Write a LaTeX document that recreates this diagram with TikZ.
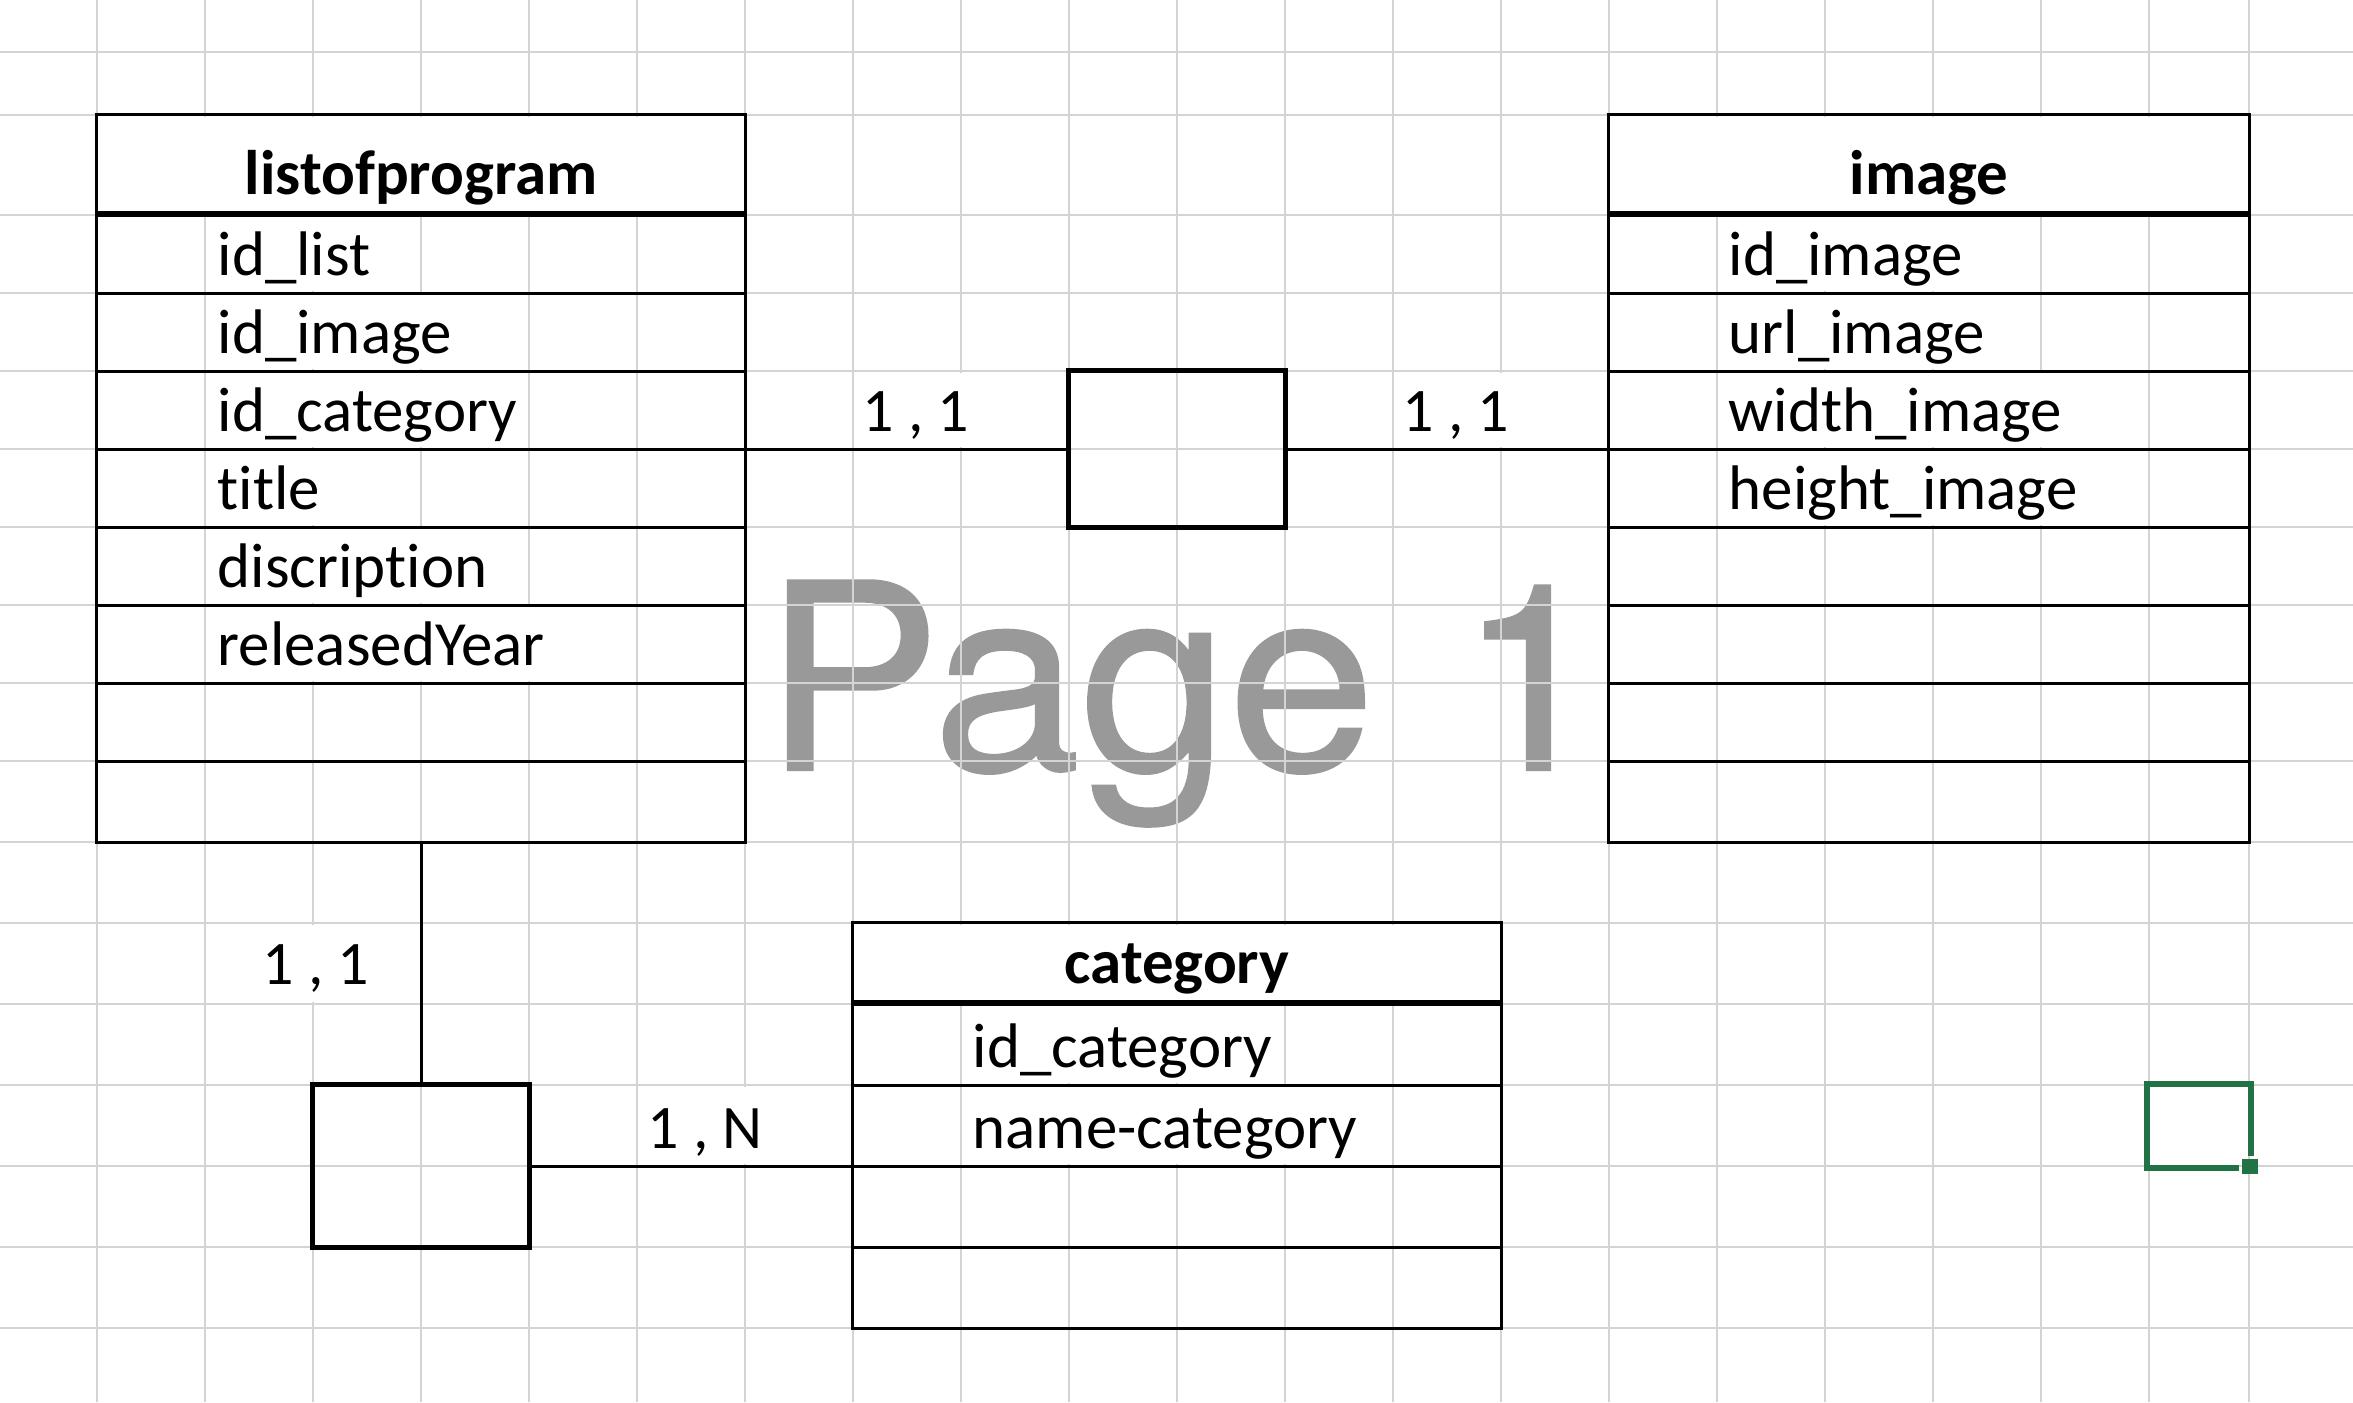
\documentclass[tikz,border=0pt]{standalone}
\usepackage{fontspec}
\setmainfont{Carlito}[Ligatures=NoCommon]
\newfontfamily\wmfont{TeX Gyre Heros}[FakeStretch=1.02, FakeBold=0.8]
\definecolor{gridgray}{RGB}{212,212,212}
\definecolor{pagegray}{RGB}{153,153,153}
\definecolor{selgreen}{RGB}{33,115,70}
\tikzset{
  gridline/.style={gridgray, line width=0.025cm},
  hide/.style={white, line width=0.045cm, shorten <=0.02cm, shorten >=0.02cm},
  tbl/.style={draw, line width=0.03cm, inner sep=0pt, outer sep=0pt},
  relbox/.style={draw, line width=0.05cm, inner sep=0pt, outer sep=0pt, minimum width=2.16cm},
  field/.style={anchor=base west, inner sep=0pt, font=\fontsize{17.9}{20}\selectfont},
  head/.style={anchor=base, inner sep=0pt, font=\fontsize{17.9}{20}\selectfont\bfseries},
  card/.style={anchor=base west, inner sep=0pt, font=\fontsize{17.6}{20}\selectfont},
  link/.style={line width=0.03cm}
}

\begin{document}
\begin{tikzpicture}[x=0.01cm, y=-0.01cm]
\fill[white] (0,0) rectangle (2353,1402);
\useasboundingbox (0,0) rectangle (2353,1402);

% watermark
\node[anchor=base west, inner sep=0pt, text=pagegray, font=\wmfont\fontsize{74}{80}\selectfont] (pg) at (763,770) {Page\hspace{0.09cm} 1};

% sheet grid
\foreach \x in {97,205,...,2149,2249}
\draw[gridline] (\x,0) -- (\x,1402);
\foreach \y in {52,115,215,293,371,449,527,605,683,761,842,923,1004,1085,1166,1247,1328}
\draw[gridline] (0,\y) -- (2353,\y);
% grid hidden behind long texts
\foreach \a/\b/\xs in {115/215/{205,313,421,529,637}, 215/293/{313}, 293/371/{313,421},
  371/449/{313,421,961,1501}, 449/527/{313}, 527/605/{313,421}, 605/683/{313,421,529},
  115/215/{1717,1825,1933,2041,2149}, 215/293/{1825,1933}, 293/371/{1825,1933},
  371/449/{1825,1933,2041}, 449/527/{1825,1933,2041},
  923/1004/{313,961,1069,1177,1285,1393}, 1004/1085/{1069,1177}, 1085/1166/{745,1069,1177,1285}}
\foreach \x in \xs
\draw[hide] (\x,\a) -- (\x,\b);

% tables
\node[tbl, minimum width=6.48cm, minimum height=7.27cm] (lop) at (421,478.5) {};
\node[tbl, minimum width=6.40cm, minimum height=7.27cm] (img) at (1929,478.5) {};
\node[tbl, minimum width=6.48cm, minimum height=4.05cm] (cat) at (1177,1125.5) {};
\foreach \y in {293,371,449,527,605,683,761} {
\draw[line width=0.03cm] (97,\y) -- (745,\y);
\draw[line width=0.03cm] (1609,\y) -- (2249,\y);
}
\foreach \y in {1085,1166,1247}
\draw[line width=0.03cm] (853,\y) -- (1501,\y);
\draw[line width=0.06cm] (97,214) -- (745,214);
\draw[line width=0.06cm] (1609,214) -- (2249,214);
\draw[line width=0.06cm] (853,1003) -- (1501,1003);

% relations
\node[relbox, minimum height=1.56cm] (relA) at (1177,449) {};
\node[relbox, minimum height=1.62cm] (relB) at (421,1166) {};
\draw[link] (relA.west) -- (relA.west -| lop.east);
\draw[link] (relA.east) -- (relA.east -| img.west);
\draw[link] (lop.south) -- (relB.north);
\draw[link] (relB.east) -- (relB.east -| cat.west);

% texts
\node[head] (lophead) at (421,194) {listofprogram};
\foreach \f [count=\i] in {id\_list, id\_image, id\_category, title, discription, releasedYear}
\node[field] (lopf\i) at (217,197+78*\i) {\f};
\node[head] (imghead) at (1929,194) {image};
\foreach \f [count=\i] in {id\_image, url\_image, width\_image, height\_image}
\node[field] (imgf\i) at (1728,197+78*\i) {\f};
\node[head] (cathead) at (1177,983) {category};
\foreach \f [count=\i] in {id\_category, name-category}
\node[field] (catf\i) at (972,986+81*\i) {\f};

\node[card] (cardA) at (862,431) {1 , 1};
\node[card] (cardB) at (1402,431) {1 , 1};
\node[card] (cardC) at (647,1148) {1 , N};
\node[card, anchor=base] (cardD) at (316,984) {1 , 1};

% selected cell
\draw[selgreen, line width=0.06cm] (2251,1156) -- (2251,1084) -- (2147,1084) -- (2147,1168) -- (2239,1168);
\fill[selgreen] (2242,1159) rectangle (2258,1174);
\end{tikzpicture}
\end{document}
